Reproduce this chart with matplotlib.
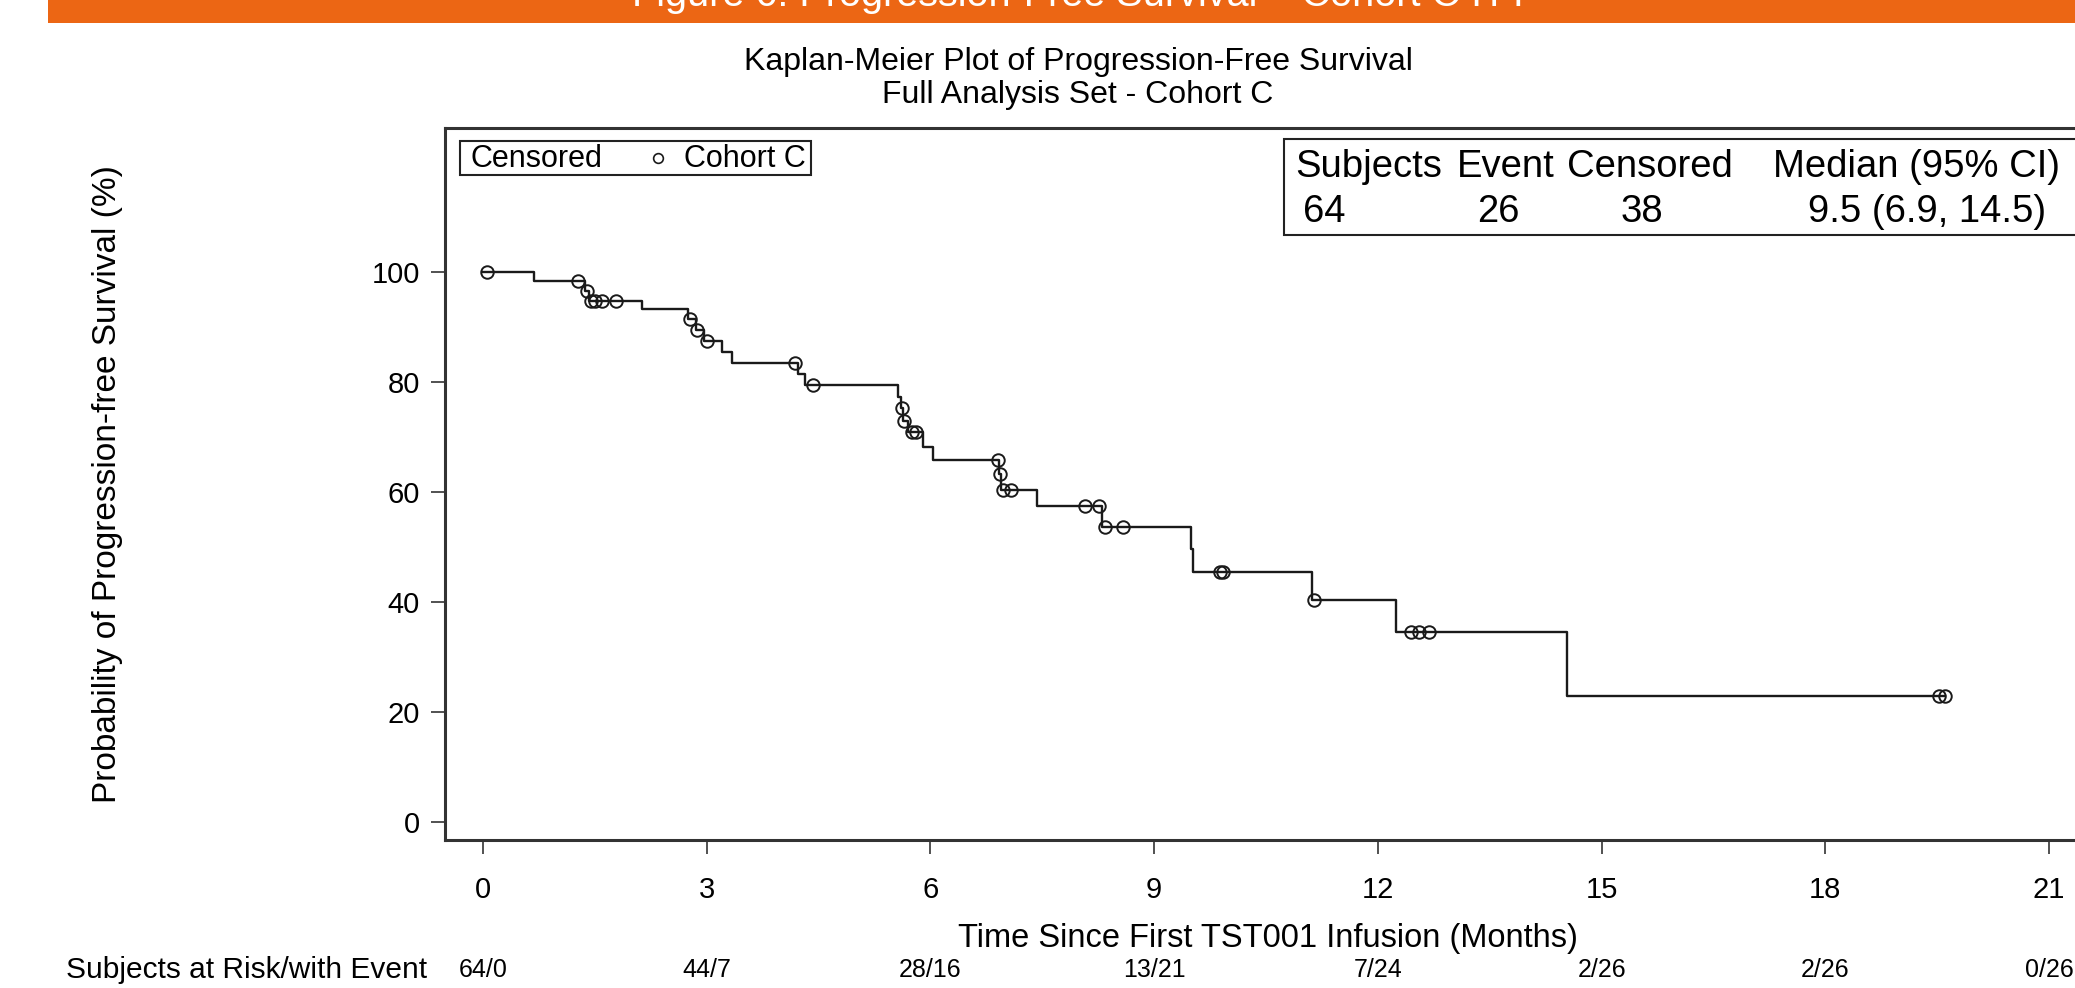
import numpy as np
import matplotlib
matplotlib.use('Agg')
import matplotlib.pyplot as plt
from matplotlib.lines import Line2D
from matplotlib.patches import Rectangle
from matplotlib.transforms import blended_transform_factory

plt.rcParams['font.family'] = ['Liberation Sans', 'DejaVu Sans']

# step curve: time (months) of each drop and survival (%) after it
step_time = [0, 0.68, 1.37, 1.42, 2.13, 2.75, 2.85, 2.96, 3.20, 3.34, 4.22, 4.32,
             5.57, 5.60, 5.63, 5.70, 5.90, 6.03, 6.92, 6.95, 7.43, 8.30, 9.50,
             9.52, 11.12, 12.24, 14.54, 19.60]
step_surv = [100, 98.4, 96.6, 94.8, 93.2, 91.4, 89.5, 87.5, 85.5, 83.5, 81.5, 79.5,
             77.3, 75.2, 73.0, 70.9, 68.2, 65.8, 63.2, 60.4, 57.5, 53.7, 49.6,
             45.5, 40.4, 34.5, 23.0, 23.0]

# censored subjects
cens_time = [0.05, 1.27, 1.40, 1.45, 1.50, 1.59, 1.78, 2.77, 2.87, 3.00, 4.18, 4.42,
             5.62, 5.65, 5.75, 5.80, 6.90, 6.93, 6.97, 7.08, 8.07, 8.26, 8.34, 8.58,
             9.88, 9.92, 11.14, 12.45, 12.55, 12.68, 19.52, 19.60]
cens_surv = [100, 98.4, 96.6, 94.8, 94.8, 94.8, 94.8, 91.4, 89.5, 87.5, 83.5, 79.5,
             75.2, 73.0, 70.9, 70.9, 65.8, 63.2, 60.4, 60.4, 57.5, 57.5, 53.7, 53.7,
             45.5, 45.5, 40.4, 34.5, 34.5, 34.5, 23.0, 23.0]

risk_time = [0, 3, 6, 9, 12, 15, 18, 21]
risk_text = ['64/0', '44/7', '28/16', '13/21', '7/24', '2/26', '2/26', '0/26']

stat_head = ['Subjects', 'Event', 'Censored', 'Median (95% CI)']
stat_vals = ['64', '26', '38', '9.5 (6.9, 14.5)']

W, H = 2075, 988
fig = plt.figure(figsize=(W / 100, H / 100), dpi=100)

def fx(px):
    return px / W

def fy(py):
    return 1 - py / H

# orange banner at the top (cut off)
fig.patches.append(Rectangle((fx(48), fy(23)), 1, 1, transform=fig.transFigure,
                             facecolor='#EC6614', edgecolor='none'))
fig.text(fx(1081), fy(6), 'Figure 6: Progression-Free Survival \u2013 Cohort C ITT',
         color='white', fontsize=28.5, ha='center', va='baseline')

ax = fig.add_axes([fx(445), fy(840), (2090 - 445) / W, (840 - 128) / H])
ax.step(step_time, step_surv, where='post', color='#1a1a1a', lw=1.7)
ax.plot(cens_time, cens_surv, 'o', ms=9, mfc='none', mec='#1a1a1a', mew=1.4)

ax.set_xlim(-0.51, 21.55)
ax.set_ylim(-3.27, 126.2)
ax.set_xticks(risk_time)
ax.set_yticks([0, 20, 40, 60, 80, 100])
ax.tick_params(axis='both', direction='out', length=10, width=1.1, color='#222222',
               labelsize=21)
ax.tick_params(axis='x', pad=16)
ax.tick_params(axis='y', pad=8)
for s in ax.spines.values():
    s.set_linewidth(2.2)
    s.set_color('#333333')

ax.set_xlabel('Time Since First TST001 Infusion (Months)', fontsize=23.5)
ax.xaxis.set_label_coords(0.5, (fy(938) - fy(840)) / ((840 - 128) / H))
ax.xaxis.label.set_verticalalignment('center')
ax.set_ylabel('Probability of Progression-free Survival (%)', fontsize=24)
ax.yaxis.set_label_coords((108 - 445) / (2090 - 445), 0.5)
ax.yaxis.label.set_verticalalignment('center')

fig.text(fx(1078), fy(62), 'Kaplan-Meier Plot of Progression-Free Survival',
         fontsize=23, ha='center', va='center')
fig.text(fx(1078), fy(95), 'Full Analysis Set - Cohort C',
         fontsize=23, ha='center', va='center')

# censored legend box top left
fig.patches.append(Rectangle((fx(460), fy(175)), fx(811 - 460), (175 - 141) / H,
                             transform=fig.transFigure, facecolor='white',
                             edgecolor='#222222', lw=1.5))
fig.text(fx(471), fy(167), 'Censored', fontsize=22, ha='left', va='baseline')
fig.lines.append(Line2D([fx(658)], [fy(158)], transform=fig.transFigure,
                        linestyle='none', marker='o', ms=7, mfc='none',
                        mec='#1a1a1a', mew=1.2))
fig.text(fx(684), fy(167), 'Cohort C', fontsize=22, ha='left', va='baseline')

# summary box top right
fig.patches.append(Rectangle((fx(1284), fy(235)), fx(2085 - 1284), (235 - 139) / H,
                             transform=fig.transFigure, facecolor='white',
                             edgecolor='#222222', lw=1.5))
head_x = [1295, 1457, 1567, 1773]
val_x = [1303, 1477, 1621, 1808]
for i in range(4):
    fig.text(fx(head_x[i]), fy(177), stat_head[i], fontsize=27.5, ha='left', va='baseline')
    fig.text(fx(val_x[i]), fy(222), stat_vals[i], fontsize=27.5, ha='left', va='baseline')

# number at risk row
tr = blended_transform_factory(ax.transData, fig.transFigure)
for t, s in zip(risk_time, risk_text):
    ax.text(t, fy(970), s, transform=tr, fontsize=18, ha='center', va='center',
            clip_on=False)
fig.text(fx(66), fy(970), 'Subjects at Risk/with Event', fontsize=21.5,
         ha='left', va='center')

fig.savefig('out.png', dpi=100)
